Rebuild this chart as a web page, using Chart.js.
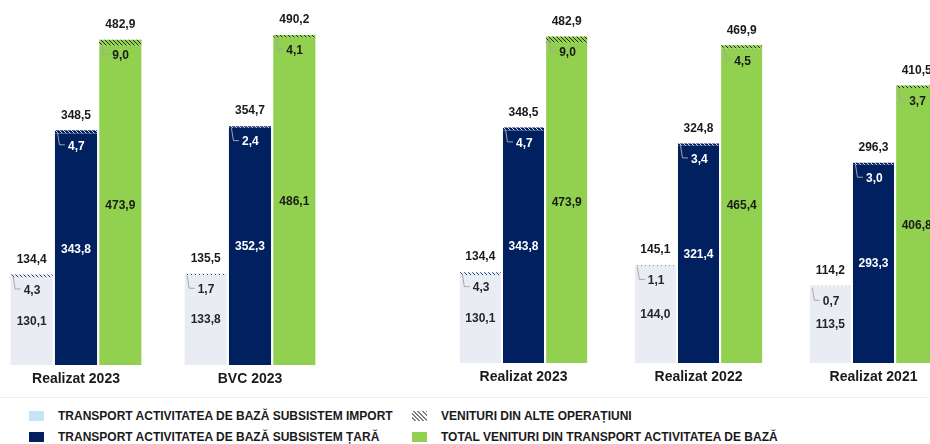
<!DOCTYPE html>
<html>
<head>
<meta charset="utf-8">
<script src="https://cdn.jsdelivr.net/npm/chart.js@4.4.1/dist/chart.umd.min.js"></script>
<style>
  html, body { margin: 0; padding: 0; background: #fff; }
  body { width: 930px; height: 444px; position: relative; overflow: hidden; font-family: "Liberation Sans", Arial, sans-serif; }
  .chart-box { position: absolute; top: 0; }
  #leftBox { left: -11px; width: 348px; height: 400px; }
  #rightBox { left: 436px; width: 525px; height: 398px; }
  .sep { position: absolute; left: 0; top: 397px; width: 930px; height: 1px; background: #f0f0f0; }
  .legend-item { position: absolute; font-size: 12px; font-weight: bold; color: #1a1a1a; white-space: nowrap; line-height: 14px; }
  .legend-item .sw { position: absolute; left: 0; top: 2px; width: 15px; height: 10px; }
  .legend-item .txt { position: absolute; top: 0; display: inline-block; transform-origin: left center; }
</style>
</head>
<body>
<div class="chart-box" id="leftBox"><canvas id="leftChart" width="348" height="400"></canvas></div>
<div class="chart-box" id="rightBox"><canvas id="rightChart" width="525" height="398"></canvas></div>
<div class="sep"></div>

<div class="legend-item" style="left:29px; top:409px;"><span class="sw" style="background:#c5e4f5;"></span><span class="txt" style="left:29px;">TRANSPORT ACTIVITATEA DE BAZĂ SUBSISTEM IMPORT</span></div>
<div class="legend-item" style="left:29px; top:430px;"><span class="sw" style="background:#002060;"></span><span class="txt" style="left:29px;">TRANSPORT ACTIVITATEA DE BAZĂ SUBSISTEM ȚARĂ</span></div>
<div class="legend-item" style="left:412px; top:409px;"><span class="sw" id="hatchSwatch"></span><span class="txt" style="left:29px;">VENITURI DIN ALTE OPERAȚIUNI</span></div>
<div class="legend-item" style="left:412px; top:430px;"><span class="sw" style="background:#92d050;"></span><span class="txt" style="left:29px;">TOTAL VENITURI DIN TRANSPORT ACTIVITATEA DE BAZĂ</span></div>

<script>
// Left chart: Realizat 2023 vs BVC 2023
const leftCategories = ['Realizat 2023', 'BVC 2023'];
const leftImportBase = [130.1, 133.8];
const leftImportOther = [4.3, 1.7];
const leftImportTotal = [134.4, 135.5];
const leftTaraBase = [343.8, 352.3];
const leftTaraOther = [4.7, 2.4];
const leftTaraTotal = [348.5, 354.7];
const leftTotBase = [473.9, 486.1];
const leftTotOther = [9.0, 4.1];
const leftTotTotal = [482.9, 490.2];

// Right chart: Realizat 2023 / 2022 / 2021
const rightCategories = ['Realizat 2023', 'Realizat 2022', 'Realizat 2021'];
const rightImportBase = [130.1, 144.0, 113.5];
const rightImportOther = [4.3, 1.1, 0.7];
const rightImportTotal = [134.4, 145.1, 114.2];
const rightTaraBase = [343.8, 321.4, 293.3];
const rightTaraOther = [4.7, 3.4, 3.0];
const rightTaraTotal = [348.5, 324.8, 296.3];
const rightTotBase = [473.9, 465.4, 406.8];
const rightTotOther = [9.0, 4.5, 3.7];
const rightTotTotal = [482.9, 469.9, 410.5];

const COLOR_IMPORT = '#e9edf3';
const COLOR_TARA = '#002060';
const COLOR_TOTAL = '#92d050';
const FONT = '"Liberation Sans", Arial, sans-serif';

function fmt(v) {
    return v.toFixed(1).replace('.', ',');
}

// small diagonal hatch used for "venituri din alte operatiuni"
function makeHatch(ctx, bg, fg) {
    const c = document.createElement('canvas');
    c.width = 4; c.height = 4;
    const g = c.getContext('2d');
    g.fillStyle = bg;
    g.fillRect(0, 0, 4, 4);
    g.strokeStyle = fg;
    g.lineWidth = 1;
    g.beginPath();
    g.moveTo(0, 0); g.lineTo(4, 4);
    g.moveTo(-1, 3); g.lineTo(1, 5);
    g.moveTo(3, -1); g.lineTo(5, 1);
    g.stroke();
    return ctx.createPattern(c, 'repeat');
}

// labels: base value centred, other value with a leader line, total on top
const labelPlugin = {
    id: 'barLabels',
    afterDatasetsDraw(chart) {
        const ctx = chart.ctx;
        ctx.save();
        ctx.font = 'bold 12px ' + FONT;
        chart.data.datasets.forEach((ds, i) => {
            const meta = chart.getDatasetMeta(i);
            meta.data.forEach((bar, j) => {
                const left = bar.x - bar.width / 2;
                if (ds.role === 'base') {
                    ctx.fillStyle = ds.labelColor;
                    ctx.textAlign = 'center';
                    ctx.textBaseline = 'middle';
                    ctx.fillText(fmt(ds.data[j]), bar.x, (bar.y + bar.base) / 2);
                } else {
                    const top = bar.y;
                    ctx.strokeStyle = '#a6a6a6';
                    ctx.lineWidth = 1;
                    ctx.beginPath();
                    ctx.moveTo(left + 2.5, top + 2);
                    ctx.lineTo(left + 4.5, top + 14.5);
                    ctx.lineTo(left + 10, top + 14.5);
                    ctx.stroke();
                    ctx.fillStyle = ds.labelColor;
                    ctx.textAlign = 'left';
                    ctx.textBaseline = 'middle';
                    ctx.fillText(fmt(ds.data[j]), left + 13, top + 16);
                    ctx.fillStyle = '#1a1a1a';
                    ctx.textAlign = 'center';
                    ctx.fillText(fmt(ds.totals[j]), bar.x, top - 15);
                }
            });
        });
        ctx.restore();
    }
};

function buildChart(canvasId, categories, series, yMax, catPct) {
    const canvas = document.getElementById(canvasId);
    const ctx = canvas.getContext('2d');
    const hatchImport = makeHatch(ctx, COLOR_IMPORT, '#1f3f7a');
    const hatchTara = makeHatch(ctx, COLOR_TARA, '#d9dde8');
    const hatchTotal = makeHatch(ctx, COLOR_TOTAL, '#1a2a10');

    return new Chart(ctx, {
        type: 'bar',
        data: {
            labels: categories,
            datasets: [
                { data: series.importBase, stack: 'imp', backgroundColor: COLOR_IMPORT, role: 'base', labelColor: '#262626' },
                { data: series.importOther, stack: 'imp', backgroundColor: hatchImport, role: 'other', labelColor: '#262626', totals: series.importTotal },
                { data: series.taraBase, stack: 'tara', backgroundColor: COLOR_TARA, role: 'base', labelColor: '#ffffff' },
                { data: series.taraOther, stack: 'tara', backgroundColor: hatchTara, role: 'other', labelColor: '#ffffff', totals: series.taraTotal },
                { data: series.totBase, stack: 'tot', backgroundColor: COLOR_TOTAL, role: 'base', labelColor: '#1a1a1a' },
                { data: series.totOther, stack: 'tot', backgroundColor: hatchTotal, role: 'other', labelColor: '#1a1a1a', totals: series.totTotal }
            ]
        },
        options: {
            responsive: false,
            animation: false,
            devicePixelRatio: 1,
            layout: { padding: 0 },
            datasets: {
                bar: { categoryPercentage: catPct, barPercentage: 0.95, borderWidth: 0 }
            },
            plugins: {
                legend: { display: false },
                tooltip: { enabled: false }
            },
            scales: {
                x: {
                    stacked: true,
                    grid: { display: false, drawTicks: false },
                    border: { display: false },
                    ticks: {
                        color: '#1a1a1a',
                        padding: 6,
                        font: { family: FONT, size: 14, weight: 'bold' }
                    },
                    afterFit: scale => { scale.height = 35; }
                },
                y: {
                    stacked: true,
                    display: false,
                    min: 0,
                    max: yMax
                }
            }
        },
        plugins: [labelPlugin]
    });
}

buildChart('leftChart', leftCategories, {
    importBase: leftImportBase, importOther: leftImportOther, importTotal: leftImportTotal,
    taraBase: leftTaraBase, taraOther: leftTaraOther, taraTotal: leftTaraTotal,
    totBase: leftTotBase, totOther: leftTotOther, totTotal: leftTotTotal
}, 542, 0.764);

buildChart('rightChart', rightCategories, {
    importBase: rightImportBase, importOther: rightImportOther, importTotal: rightImportTotal,
    taraBase: rightTaraBase, taraOther: rightTaraOther, taraTotal: rightTaraTotal,
    totBase: rightTotBase, totOther: rightTotOther, totTotal: rightTotTotal
}, 537, 0.74);

// legend swatch with the same hatch
const sw = document.getElementById('hatchSwatch');
sw.style.background = 'repeating-linear-gradient(45deg, #ffffff 0px, #ffffff 1.5px, #7f7f7f 1.5px, #7f7f7f 3px)';
</script>
</body>
</html>
